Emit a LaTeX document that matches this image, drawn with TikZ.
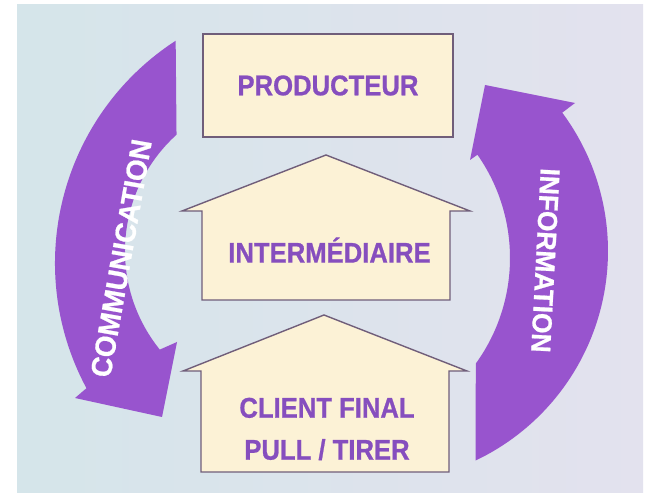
\documentclass[tikz,border=0pt]{standalone}
\usepackage{fontspec}
\newfontfamily\labfont[FakeStretch=0.9,FakeBold=0.8]{Liberation Sans Bold}
\newfontfamily\bandfont[FakeStretch=0.96,FakeBold=0.8]{Liberation Sans Bold}
\definecolor{bgleft}{RGB}{213,229,234}
\definecolor{bgright}{RGB}{227,226,238}
\definecolor{bandpurple}{RGB}{152,84,206}
\definecolor{labpurple}{RGB}{134,78,190}
\definecolor{cream}{RGB}{252,242,214}
\definecolor{edgegray}{RGB}{112,94,122}

\begin{document}
\begin{tikzpicture}[x=1pt,y=1pt,line join=miter,
        box/.style={draw=edgegray,fill=cream,line width=1.4pt},
        lab/.style={font=\labfont\fontsize{28.5}{42}\selectfont,text=labpurple,inner sep=0pt},
        bandlab/.style={text=white,inner sep=0pt,anchor=base},
        band/.style={fill=bandpurple}]
   \useasboundingbox (0,0) rectangle (652,492);
   \shade[left color=bgleft,right color=bgright] (17,0) rectangle (643,487);
   \fill[band] ([shift={(123:265)}]320,229) arc[start angle=123,end angle=208.2,radius=265]
        -- (75,94) -- (162,75) -- (177,150) -- (159.8,142.4)
        arc[start angle=218.9,end angle=132.2,radius=157] -- cycle;
   \fill[band] ([shift={(-64.6:232)}]376,241) arc[start angle=-64.6,end angle=36.6,radius=232]
        -- (575,389) -- (485,407) -- (470,332) -- ([shift={(35:180)}]330,234)
        arc[start angle=35,end angle=-35.9,radius=180] -- cycle;
   \node[bandlab,rotate=80,font=\bandfont\fontsize{29}{30}\selectfont] (comm) at (131,232) {COMMUNICATION};
   \node[bandlab,rotate=-93,font=\bandfont\fontsize{27.5}{30}\selectfont] (info) at (536,232) {INFORMATION};
   \draw[box] (202,192) -- (202,281) -- (182,281) -- (326,337) -- (470,281) -- (450,281) -- (450,192) -- cycle;
   \draw[box] (201,20) -- (201,121) -- (183,121) -- (324,177) -- (467,121) -- (449,121) -- (449,20) -- cycle;
   \node[box,lab,minimum width=250,minimum height=103] (prod) at (328,406.5) {PRODUCTEUR};
   \node[lab] (inter) at (329.5,242) {INTERMÉDIAIRE};
   \node[lab,align=center] (client) at (327,63) {CLIENT FINAL\\PULL / TIRER};
\end{tikzpicture}
\end{document}
